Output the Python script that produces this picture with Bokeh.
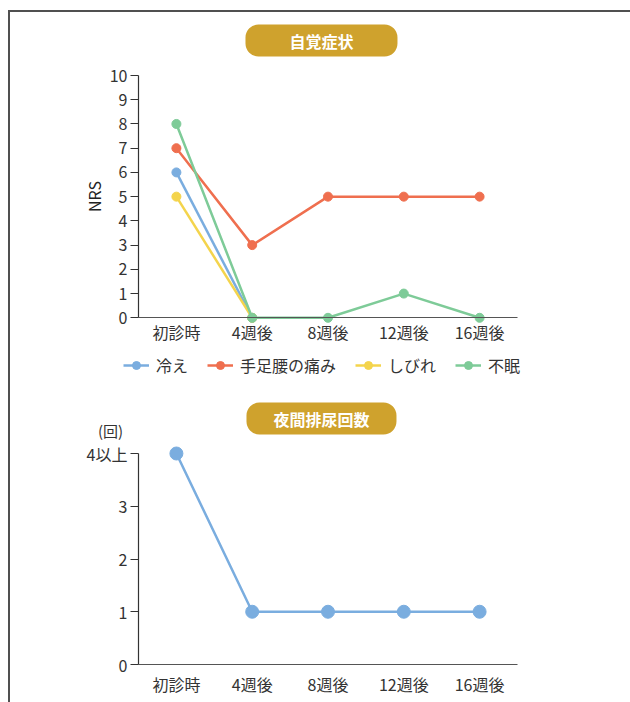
from bokeh.plotting import figure
from bokeh.layouts import column
from bokeh.models import Range1d, FactorRange, FixedTicker, Legend, LegendItem, Label
from bokeh.embed import file_html
from bokeh.resources import INLINE

nan = float("nan")

# ---------------- data ----------------
categories = ["初診時", "4週後", "8週後", "12週後", "16週後"]
nrs_ticks = [0, 1, 2, 3, 4, 5, 6, 7, 8, 9, 10]
hie = [6, 0, nan, nan, nan]      # 冷え
pain = [7, 3, 5, 5, 5]           # 手足腰の痛み
shibire = [5, 0, nan, nan, nan]  # しびれ
fumin = [8, 0, 0, 1, 0]          # 不眠
series_names = ["冷え", "手足腰の痛み", "しびれ", "不眠"]
series_colors = ["#7aaddf", "#ef6f4f", "#f4d44c", "#7ecb98"]

nocturia = [4, 1, 1, 1, 1]       # 夜間排尿回数
nocturia_ticks = [0, 1, 2, 3, 4]
nocturia_tick_labels = {4: "4以上"}

title1 = "自覚症状"
title2 = "夜間排尿回数"
y_title1 = "NRS"
y_title2 = "(回)"

FONT = "Noto Sans CJK JP"
PILL = "#cfa22d"
AXIS = "#333333"

# ---------------- geometry (pixels) ----------------
CANVAS_W = 620
LEFT = 75                # frame left inside the canvas
CAT_PX = 75.8            # width of one category
PAD_PX = 53              # frame padding on each side of the categories
FRAME_W = int(round(CAT_PX * 5 + 2 * PAD_PX))


def x_range():
    return FactorRange(*categories, range_padding=PAD_PX / CAT_PX, range_padding_units="absolute")


def style_axes(p, yticks, overrides=None, x_standoff=2):
    p.grid.visible = False
    p.outline_line_color = None
    p.background_fill_color = "white"
    p.border_fill_color = "white"
    xa = p.xaxis[0]
    xa.fixed_location = yticks[0]
    xa.bounds = (0, len(categories))
    xa.axis_line_color = "#555555"
    xa.axis_line_width = 1.2
    xa.major_tick_line_color = None
    xa.major_tick_out = 0
    xa.major_tick_in = 0
    xa.minor_tick_line_color = None
    xa.major_label_text_font = FONT
    xa.major_label_text_font_size = "16px"
    xa.major_label_text_color = AXIS
    xa.major_label_standoff = x_standoff
    ya = p.yaxis[0]
    ya.fixed_location = 0
    ya.ticker = FixedTicker(ticks=yticks)
    ya.bounds = (yticks[0], yticks[-1])
    ya.axis_line_color = AXIS
    ya.axis_line_width = 1.2
    ya.major_tick_line_color = AXIS
    ya.major_tick_out = 8
    ya.major_tick_in = 0
    ya.minor_tick_line_color = None
    ya.major_label_text_font = FONT
    ya.major_label_text_font_size = "16px"
    ya.major_label_text_color = AXIS
    ya.major_label_standoff = 3
    if overrides:
        ya.major_label_overrides = overrides


def pill(x, y, text, pad):
    return Label(x=x, y=y, text=text, text_align="center", text_baseline="middle",
                 text_color="white", text_font=FONT, text_font_style="bold",
                 text_font_size="16px", background_fill_color=PILL,
                 border_radius=13, padding=dict(left=pad, right=pad, top=4, bottom=4))


# ---------------- top chart ----------------
H1 = 380
s1 = 24.23                      # px per NRS unit
y1_top = 10 + 63 / s1
y1_bot = -(H1 - 63 - 10 * s1) / s1
p1 = figure(x_range=x_range(), y_range=Range1d(y1_bot, y1_top),
            width=CANVAS_W, height=H1, min_border_left=LEFT,
            min_border_right=CANVAS_W - LEFT - FRAME_W,
            min_border_top=0, min_border_bottom=0,
            output_backend="svg", toolbar_location=None)
style_axes(p1, nrs_ticks, x_standoff=2)
p1.yaxis.axis_label = y_title1
p1.yaxis.axis_label_text_font = FONT
p1.yaxis.axis_label_text_font_size = "16px"
p1.yaxis.axis_label_text_font_style = "normal"
p1.yaxis.axis_label_text_color = "#222222"
p1.yaxis.axis_label_standoff = 1

items = []
for name, vals, col in zip(series_names, [hie, pain, shibire, fumin], series_colors):
    r_line = p1.line(categories, vals, line_color=col, line_width=2.5)
    r_dot = p1.scatter(categories, vals, size=9, fill_color=col, line_color=col)
    items.append(LegendItem(label=name, renderers=[r_line, r_dot]))

legend = Legend(items=items, orientation="horizontal", location=(38, 15),
                border_line_color=None, background_fill_alpha=0,
                padding=0, margin=0, spacing=19, glyph_width=26, glyph_height=20,
                label_standoff=7, label_text_font=FONT, label_text_font_size="16px",
                label_text_color=AXIS)
p1.add_layout(legend, "center")
p1.add_layout(pill(2.414, 10 + 35 / s1, title1, 44))

# ---------------- bottom chart ----------------
H2 = 310
s2 = 52.75                      # px per count unit
y2_top = 4 + 61 / s2
y2_bot = -(H2 - 61 - 4 * s2) / s2
p2 = figure(x_range=x_range(), y_range=Range1d(y2_bot, y2_top),
            width=CANVAS_W, height=H2, min_border_left=LEFT,
            min_border_right=CANVAS_W - LEFT - FRAME_W,
            min_border_top=0, min_border_bottom=0,
            output_backend="svg", toolbar_location=None)
style_axes(p2, nocturia_ticks, nocturia_tick_labels, x_standoff=7)
p2.line(categories, nocturia, line_color=series_colors[0], line_width=2.5)
p2.scatter(categories, nocturia, size=13, fill_color=series_colors[0], line_color=series_colors[0])
p2.add_layout(pill(2.414, 4 + 35 / s2, title2, 27))
p2.add_layout(Label(x=-0.369, y=4 + 23 / s2, text=y_title2, text_align="center",
                    text_baseline="middle", text_font=FONT, text_font_size="15px",
                    text_color=AXIS))

layout = column(p1, p2, spacing=0, margin=(10, 0, 0, 8),
                styles={"border-left": "2px solid #505050", "border-top": "2px solid #505050"})

open("out.html", "w").write(file_html(layout, INLINE))
